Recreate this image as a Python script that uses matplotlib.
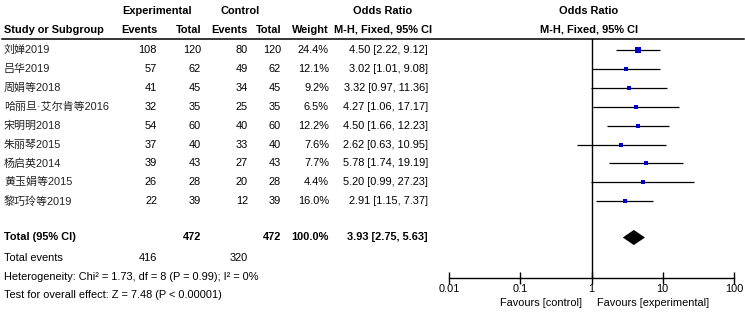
import numpy as np
import matplotlib
matplotlib.use('Agg')
import matplotlib.pyplot as plt
from matplotlib import font_manager
from matplotlib.patches import Polygon
from matplotlib.ticker import NullLocator

# data
studies = ['刘婵2019', '吕华2019', '周娟等2018', '哈丽旦·艾尔肯等2016', '宋明明2018',
           '朱丽琴2015', '杨启英2014', '黄玉娟等2015', '黎巧玲等2019']
exp_events = [108, 57, 41, 32, 54, 37, 39, 26, 22]
exp_total = [120, 62, 45, 35, 60, 40, 43, 28, 39]
ctl_events = [80, 49, 34, 25, 40, 33, 27, 20, 12]
ctl_total = [120, 62, 45, 35, 60, 40, 43, 28, 39]
weights = [24.4, 12.1, 9.2, 6.5, 12.2, 7.6, 7.7, 4.4, 16.0]
odds = [4.50, 3.02, 3.32, 4.27, 4.50, 2.62, 5.78, 5.20, 2.91]
ci_low = [2.22, 1.01, 0.97, 1.06, 1.66, 0.63, 1.74, 0.99, 1.15]
ci_high = [9.12, 9.08, 11.36, 17.17, 12.23, 10.95, 19.19, 27.23, 7.37]

total_or, total_low, total_high = 3.93, 2.75, 5.63
total_n_exp, total_n_ctl = 472, 472
total_weight = 100.0
total_ev_exp, total_ev_ctl = 416, 320
heterogeneity = 'Heterogeneity: Chi² = 1.73, df = 8 (P = 0.99); I² = 0%'
overall = 'Test for overall effect: Z = 7.48 (P < 0.00001)'

ticks = [0.01, 0.1, 1, 10, 100]
tick_labels = ['0.01', '0.1', '1', '10', '100']

# font: narrow arial-like if we have it
names = {f.name for f in font_manager.fontManager.ttflist}
if 'Liberation Sans Narrow' in names:
    base, fs = 'Liberation Sans Narrow', 9
else:
    base, fs = 'Liberation Sans', 7.9
plt.rcParams['font.family'] = [base, 'Liberation Sans', 'Noto Sans CJK SC', 'DejaVu Sans']
plt.rcParams['font.size'] = fs

W, H = 745, 312
fig = plt.figure(figsize=(W / 100, H / 100), dpi=100)

# table layer in pixel coordinates
tab = fig.add_axes([0, 0, 1, 1])
tab.set_xlim(0, W)
tab.set_ylim(H, 0)
tab.axis('off')

y0, dy = 50, 18.9
row_y = [y0 + dy * i for i in range(len(studies))]
total_y = 237.5

# headers
tab.text(157, 11, 'Experimental', ha='center', va='center', weight='bold')
tab.text(240, 11, 'Control', ha='center', va='center', weight='bold')
tab.text(383, 11, 'Odds Ratio', ha='center', va='center', weight='bold')
tab.text(589, 11, 'Odds Ratio', ha='center', va='center', weight='bold')
tab.text(4, 30, 'Study or Subgroup', ha='left', va='center', weight='bold')
for x, s in [(157, 'Events'), (201, 'Total'), (248, 'Events'), (281, 'Total'), (329, 'Weight')]:
    tab.text(x, 30, s, ha='right', va='center', weight='bold')
tab.text(383, 30, 'M-H, Fixed, 95% CI', ha='center', va='center', weight='bold')
tab.text(589, 30, 'M-H, Fixed, 95% CI', ha='center', va='center', weight='bold')
tab.plot([2, 744], [39, 39], color='black', lw=1.1)

# study rows
for i, y in enumerate(row_y):
    tab.text(4, y, studies[i], ha='left', va='center', color='#222222')
    tab.text(157, y, str(exp_events[i]), ha='right', va='center')
    tab.text(201, y, str(exp_total[i]), ha='right', va='center')
    tab.text(248, y, str(ctl_events[i]), ha='right', va='center')
    tab.text(281, y, str(ctl_total[i]), ha='right', va='center')
    tab.text(329, y, '%.1f%%' % weights[i], ha='right', va='center')
    tab.text(428, y, '%.2f [%.2f, %.2f]' % (odds[i], ci_low[i], ci_high[i]),
             ha='right', va='center')

# totals
tab.text(4, total_y, 'Total (95% CI)', ha='left', va='center', weight='bold')
tab.text(201, total_y, str(total_n_exp), ha='right', va='center', weight='bold')
tab.text(281, total_y, str(total_n_ctl), ha='right', va='center', weight='bold')
tab.text(329, total_y, '%.1f%%' % total_weight, ha='right', va='center', weight='bold')
tab.text(428, total_y, '%.2f [%.2f, %.2f]' % (total_or, total_low, total_high),
         ha='right', va='center', weight='bold')
tab.text(4, 258, 'Total events', ha='left', va='center')
tab.text(157, 258, str(total_ev_exp), ha='right', va='center')
tab.text(248, 258, str(total_ev_ctl), ha='right', va='center')
tab.text(4, 277, heterogeneity, ha='left', va='center')
tab.text(4, 295.5, overall, ha='left', va='center')

tab.text(582, 303, 'Favours [control]', ha='right', va='center')
tab.text(597, 303, 'Favours [experimental]', ha='left', va='center')

# forest plot
top, bot = 39, 278
fa = fig.add_axes([449 / W, (H - bot) / H, (734 - 449) / W, (bot - top) / H])
fa.patch.set_alpha(0)
fa.set_xscale('log')
fa.set_xlim(0.01, 100)
fa.set_ylim((bot - y0) / dy, (top - y0) / dy)
rows = np.arange(len(studies))
fa.hlines(rows, ci_low, ci_high, color='black', lw=0.9)
for i in rows:
    side = 2.4 + 0.16 * weights[i]
    fa.plot(odds[i], i, 's', ms=side * 0.72, color='#0000cc', mew=0)
ty = (total_y - y0) / dy
h = 0.4
fa.add_patch(Polygon([(total_low, ty), (total_or, ty - h), (total_high, ty), (total_or, ty + h)],
                     closed=True, color='black', lw=0))
fa.axvline(1, color='black', lw=1)

for s in ['top', 'left', 'right']:
    fa.spines[s].set_visible(False)
fa.spines['bottom'].set_linewidth(1)
fa.set_yticks([])
fa.set_xticks(ticks)
fa.set_xticklabels(tick_labels)
fa.xaxis.set_minor_locator(NullLocator())
fa.tick_params(axis='x', direction='inout', length=8, width=1, pad=0.5, labelsize=fs)

fig.savefig('out.png', dpi=100)
